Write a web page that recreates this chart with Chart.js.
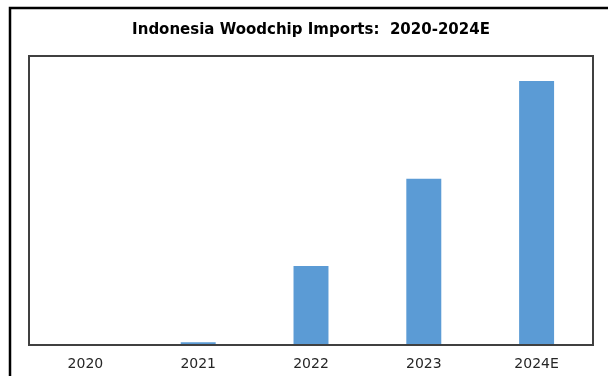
<!DOCTYPE html>
<html>
<head>
<meta charset="utf-8">
<script src="https://cdn.jsdelivr.net/npm/chart.js@4"></script>
<style>
  html, body { margin: 0; padding: 0; background: #fff; }
  #wrap { width: 608px; height: 376px; }
</style>
</head>
<body>
<div id="wrap"><canvas id="c" width="608" height="376"></canvas></div>
<script>
const titleText = "Indonesia Woodchip Imports:  2020-2024E";
const categories = ["2020", "2021", "2022", "2023", "2024E"];
const imports = [0, 10, 301, 633, 1005];
const yMax = 1100;

const framePlugin = {
  id: 'frame',
  afterDraw(chart) {
    const ctx = chart.ctx;
    const a = chart.chartArea;
    ctx.save();
    // outer border (cropped on right/bottom)
    ctx.strokeStyle = '#000000';
    ctx.lineWidth = 2.5;
    ctx.strokeRect(10, 8, 620, 400);
    // plot box
    ctx.strokeStyle = '#404040';
    ctx.lineWidth = 2;
    ctx.strokeRect(a.left, a.top, a.right - a.left, a.bottom - a.top);
    ctx.restore();
  }
};

new Chart(document.getElementById('c'), {
  type: 'bar',
  data: {
    labels: categories,
    datasets: [{
      data: imports,
      backgroundColor: '#5B9BD5',
      borderWidth: 0,
      categoryPercentage: 1.0,
      barPercentage: 0.31
    }]
  },
  options: {
    responsive: false,
    animation: false,
    devicePixelRatio: 1,
    layout: { padding: { left: 29, right: 15, top: 0, bottom: 0 } },
    plugins: {
      legend: { display: false },
      tooltip: { enabled: false },
      title: {
        display: true,
        text: titleText,
        color: '#000000',
        font: { family: 'DejaVu Sans', size: 15, weight: 'bold', lineHeight: 1.2 },
        padding: { top: 21, bottom: 17 }
      }
    },
    scales: {
      x: {
        grid: { display: false },
        border: { display: false },
        ticks: {
          color: '#262626',
          font: { family: 'DejaVu Sans', size: 14 },
          padding: 3,
          maxRotation: 0
        },
        afterFit(scale) { scale.height = 31; }
      },
      y: {
        display: false,
        min: 0,
        max: yMax
      }
    }
  },
  plugins: [framePlugin]
});
</script>
</body>
</html>
